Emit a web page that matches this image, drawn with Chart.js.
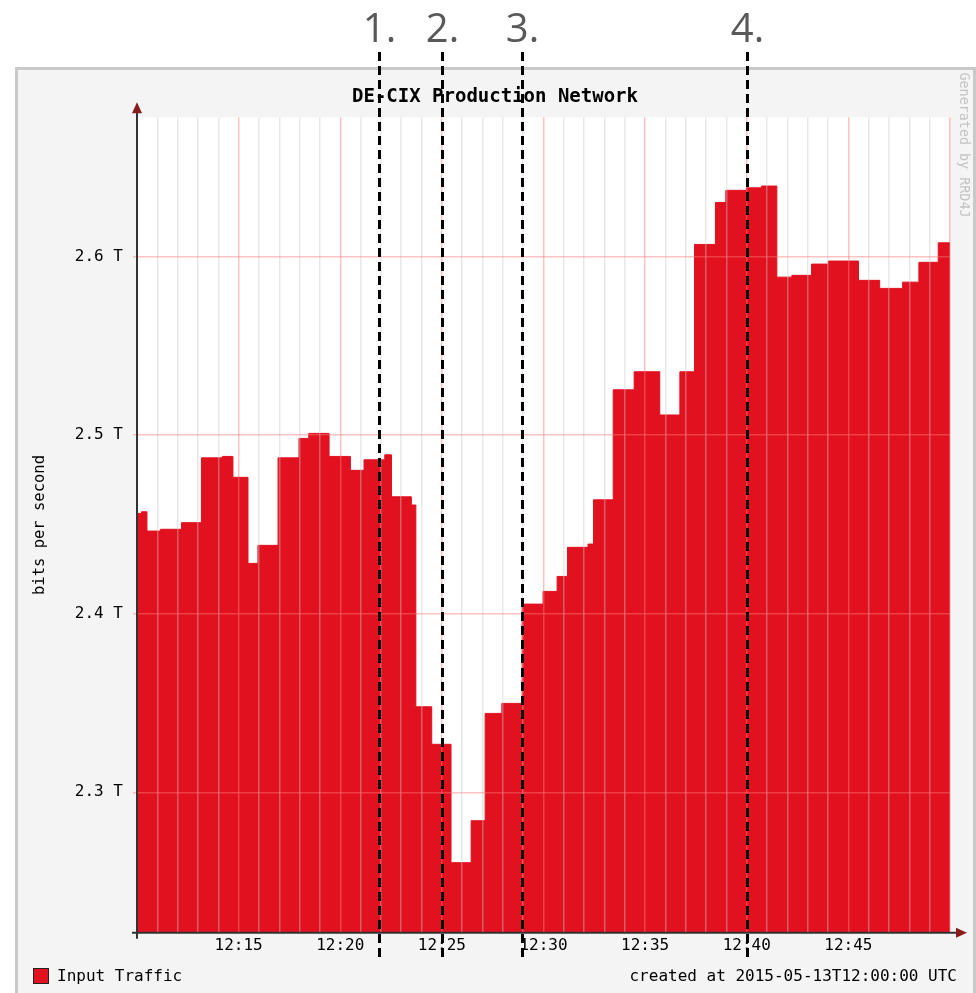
<!DOCTYPE html>
<html>
<head>
<meta charset="utf-8">
<script src="https://cdn.jsdelivr.net/npm/chart.js@4.4.1/dist/chart.umd.min.js"></script>
<style>
  html,body{margin:0;padding:0;background:#fff;overflow:hidden;}
  canvas{display:block;}
</style>
</head>
<body>
<canvas id="c" width="976" height="993"></canvas>
<script>
// ---- data (minutes after 12:00, bits per second in T) ----
const stepStartMinutes = [10.00, 10.22, 10.49, 11.15, 12.19, 13.17, 14.20, 14.72, 15.46, 15.95,
  16.94, 17.97, 18.45, 19.45, 20.50, 21.17, 22.19, 22.52, 23.50, 23.72,
  24.50, 25.45, 26.44, 27.13, 27.95, 28.95, 29.98, 30.67, 31.18, 32.19,
  32.46, 33.43, 34.46, 35.72, 36.71, 37.43, 38.46, 38.97, 39.99, 40.73,
  41.48, 42.22, 43.19, 44.01, 45.50, 46.54, 47.67, 48.47, 49.42, 50.00];
const inputTrafficT = [2.4562, 2.4571, 2.4463, 2.4473, 2.4510, 2.4873, 2.4881, 2.4764, 2.4282, 2.4383,
  2.4873, 2.4982, 2.5010, 2.4881, 2.4803, 2.4862, 2.4890, 2.4655, 2.4609, 2.3479,
  2.3269, 2.2606, 2.2841, 2.3442, 2.3498, 2.4054, 2.4125, 2.4209, 2.4372, 2.4390,
  2.4638, 2.5254, 2.5355, 2.5113, 2.5355, 2.6068, 2.6303, 2.6371, 2.6385, 2.6395,
  2.5885, 2.5895, 2.5958, 2.5975, 2.5867, 2.5822, 2.5857, 2.5968, 2.6077, 2.6077];
const xLabelMinutes = [15, 20, 25, 30, 35, 40, 45];
const yTickValues = [2.3, 2.4, 2.5, 2.6];
const markerMinutes = [21.9, 25.0, 28.95, 40.0];
const markerLabels = ['1.', '2.', '3.', '4.'];
const chartTitle = 'DE-CIX Production Network';
const seriesName = 'Input Traffic';
const createdText = 'created at 2015-05-13T12:00:00 UTC';
const generatedText = 'Generated by RRD4J';
const yAxisTitle = 'bits per second';

const RED = '#e1111f';
const MONO = '"DejaVu Sans Mono", monospace';
const MAJOR_GRID = 'rgba(255,120,120,0.45)';
const MINOR_GRID = 'rgba(200,200,200,0.42)';

const rrdPlugin = {
  id: 'rrd',
  beforeDraw(chart) {
    const ctx = chart.ctx, a = chart.chartArea, W = chart.width, H = chart.height;
    ctx.save();
    ctx.fillStyle = '#ffffff';
    ctx.fillRect(0, 0, W, H);
    ctx.fillStyle = '#c9c9c9';
    ctx.fillRect(15, 67, W - 15, H - 67);
    ctx.fillStyle = '#f4f4f4';
    ctx.fillRect(18, 70, W - 18 - 3, H - 70);
    ctx.fillStyle = '#ffffff';
    ctx.fillRect(a.left, a.top, a.right - a.left, a.bottom - a.top);
    ctx.restore();
  },
  afterDraw(chart) {
    const ctx = chart.ctx, a = chart.chartArea, xs = chart.scales.x;
    ctx.save();
    // axes
    ctx.strokeStyle = '#333333';
    ctx.lineWidth = 2;
    ctx.beginPath();
    ctx.moveTo(a.left, a.bottom + 6);
    ctx.lineTo(a.left, a.top - 5);
    ctx.moveTo(a.left - 5, a.bottom);
    ctx.lineTo(a.right + 8, a.bottom);
    ctx.stroke();
    ctx.fillStyle = '#8a1c1c';
    ctx.beginPath();
    ctx.moveTo(a.left, a.top - 15);
    ctx.lineTo(a.left - 5, a.top - 4);
    ctx.lineTo(a.left + 5, a.top - 4);
    ctx.closePath();
    ctx.fill();
    ctx.beginPath();
    ctx.moveTo(a.right + 17, a.bottom);
    ctx.lineTo(a.right + 6, a.bottom - 5);
    ctx.lineTo(a.right + 6, a.bottom + 5);
    ctx.closePath();
    ctx.fill();

    // title
    ctx.fillStyle = '#000';
    ctx.font = 'bold 19px ' + MONO;
    ctx.textAlign = 'center';
    ctx.textBaseline = 'middle';
    ctx.fillText(chartTitle, 495, 97);

    // legend
    ctx.fillStyle = RED;
    ctx.fillRect(33, 968, 16, 16);
    ctx.strokeStyle = '#222';
    ctx.lineWidth = 1;
    ctx.strokeRect(33.5, 968.5, 15, 15);
    ctx.fillStyle = '#000';
    ctx.font = '16px ' + MONO;
    ctx.textAlign = 'left';
    ctx.fillText(seriesName, 57, 977);
    ctx.textAlign = 'right';
    ctx.fillText(createdText, 957, 977);

    // generated by
    ctx.save();
    ctx.translate(963, 145);
    ctx.rotate(Math.PI / 2);
    ctx.fillStyle = '#c4c4c4';
    ctx.font = '13.4px ' + MONO;
    ctx.textAlign = 'center';
    ctx.textBaseline = 'middle';
    ctx.fillText(generatedText, 0, 0);
    ctx.restore();

    // markers
    markerMinutes.forEach((m, i) => {
      const px = Math.round(xs.getPixelForValue(m)) + 0.5;
      ctx.strokeStyle = '#000';
      ctx.lineWidth = 3;
      ctx.setLineDash([9, 5]);
      ctx.beginPath();
      ctx.moveTo(px, 52);
      ctx.lineTo(px, 962);
      ctx.stroke();
      ctx.setLineDash([]);
      ctx.fillStyle = '#595959';
      ctx.font = '40px "Open Sans", sans-serif';
      ctx.textAlign = 'center';
      ctx.textBaseline = 'alphabetic';
      ctx.fillText(markerLabels[i], px, 42);
    });
    ctx.restore();
  }
};

const points = stepStartMinutes.map((t, i) => ({x: t, y: inputTrafficT[i]}));

new Chart(document.getElementById('c'), {
  type: 'line',
  data: {
    datasets: [{
      label: seriesName,
      data: points,
      stepped: 'before',
      fill: 'start',
      backgroundColor: RED,
      borderColor: RED,
      borderWidth: 1,
      pointRadius: 0,
      tension: 0
    }]
  },
  options: {
    responsive: false,
    devicePixelRatio: 1,
    animation: false,
    layout: {padding: {left: 0, right: 26, top: 117.3, bottom: 0}},
    plugins: {
      legend: {display: false},
      title: {display: false},
      tooltip: {enabled: false}
    },
    scales: {
      x: {
        type: 'linear',
        min: 10,
        max: 50,
        afterFit(scale) { scale.height = 60.3; },
        afterBuildTicks(scale) {
          const t = [];
          for (let m = 10; m <= 50; m++) t.push({value: m});
          scale.ticks = t;
        },
        border: {display: false},
        grid: {
          z: 1,
          drawTicks: false,
          lineWidth: 1.5,
          color: (c) => (c.tick && c.tick.value % 5 === 0) ? MAJOR_GRID : MINOR_GRID
        },
        ticks: {
          autoSkip: false,
          maxRotation: 0,
          padding: 4,
          color: '#000',
          font: {family: MONO, size: 16},
          callback: (v) => xLabelMinutes.includes(v) ? '12:' + String(v).padStart(2, '0') : ''
        }
      },
      y: {
        type: 'linear',
        min: 2.2214,
        max: 2.678,
        afterFit(scale) { scale.width = 137; },
        afterBuildTicks(scale) { scale.ticks = yTickValues.map(v => ({value: v})); },
        border: {display: false},
        grid: {
          z: 1,
          drawTicks: true,
          tickLength: 4,
          lineWidth: 1.5,
          color: MAJOR_GRID
        },
        ticks: {
          padding: 10,
          color: '#000',
          font: {family: MONO, size: 16},
          callback: (v) => v.toFixed(1) + ' T'
        },
        title: {
          display: true,
          text: yAxisTitle,
          color: '#000',
          font: {family: MONO, size: 15.5},
          padding: {top: 30.7, bottom: 0}
        }
      }
    }
  },
  plugins: [rrdPlugin]
});
</script>
</body>
</html>
